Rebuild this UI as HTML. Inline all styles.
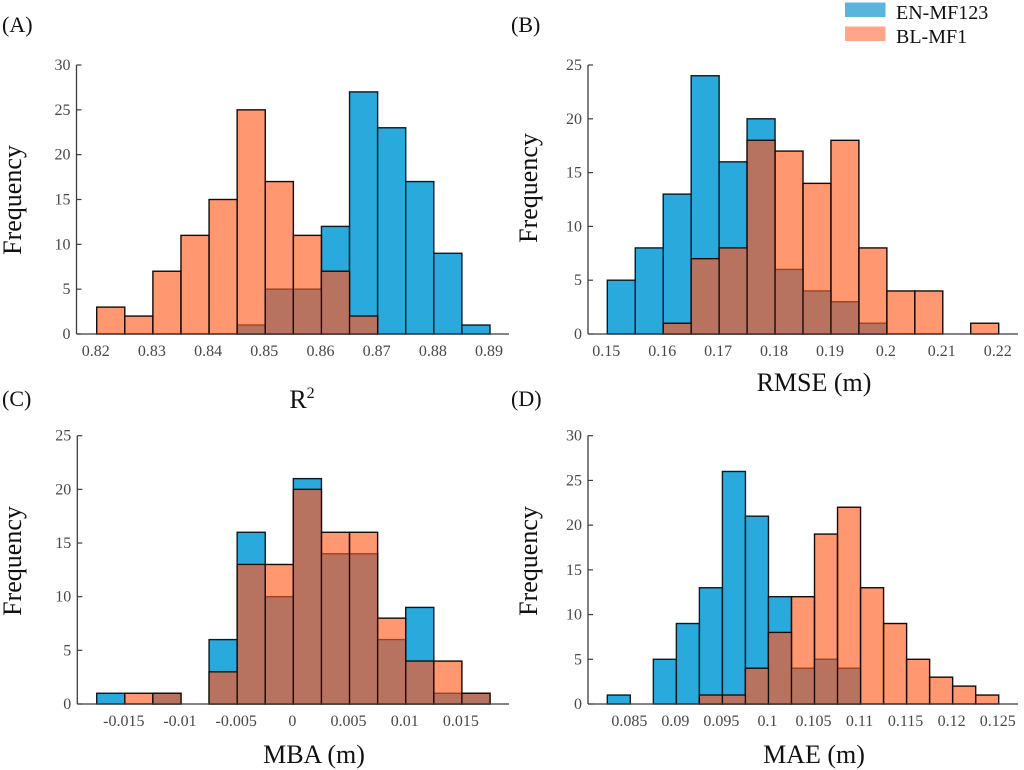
<!DOCTYPE html>
<html lang="en">
<head>
<meta charset="utf-8">
<title>Histograms of R2, RMSE, MBA and MAE</title>
<style>
html,body{margin:0;padding:0;background:#fff;width:1024px;height:770px;overflow:hidden}
svg{display:block;filter:blur(0.35px)}
text{font-family:"Liberation Serif",serif}
.tick{font-size:16px;fill:#484848}
.title{font-size:26px;fill:#111}
.panel{font-size:22px;fill:#111}
.leg{font-size:20px;fill:#111}
</style>
</head>
<body>
<svg id="figure" xmlns="http://www.w3.org/2000/svg" width="1024" height="770" viewBox="0 0 1024 770">
  <rect width="1024" height="770" fill="#fff"/>
  <g>
    <rect x="845" y="2.5" width="40.5" height="14.5" fill="#5ab4e0"/>
    <text class="leg" x="896" y="19">EN-MF123</text>
    <rect x="845" y="26.5" width="40.5" height="14.5" fill="#ffa68a"/>
    <text class="leg" x="896" y="43">BL-MF1</text>
  </g>
  <text class="panel" x="2" y="32">(A)</text>
  <text class="panel" x="511" y="32">(B)</text>
  <text class="panel" x="2" y="406">(C)</text>
  <text class="panel" x="511" y="406">(D)</text>
  <text class="title" x="302" y="408" text-anchor="middle">R<tspan font-size="16" dy="-10">2</tspan></text>
  <text class="title" x="814" y="391" text-anchor="middle">RMSE (m)</text>
  <text class="title" x="314" y="763" text-anchor="middle">MBA (m)</text>
  <text class="title" x="814" y="763" text-anchor="middle">MAE (m)</text>
  <g id="charts"></g>
</svg>
<script>
// Panel A: R2
const aBins = [0.82,0.825,0.83,0.835,0.84,0.845,0.85,0.855,0.86,0.865,0.87,0.875,0.88,0.885];
const aBlue = [0,0,0,0,0,1,5,5,12,27,23,17,9,1];
const aOrange = [3,2,7,11,15,25,17,11,7,2,0,0,0,0];
const aXTicks = [0.82,0.83,0.84,0.85,0.86,0.87,0.88,0.89];
const aXLabels = ["0.82","0.83","0.84","0.85","0.86","0.87","0.88","0.89"];
const aYTicks = [0,5,10,15,20,25,30];

// Panel B: RMSE
const bBins = [0.15,0.155,0.16,0.165,0.17,0.175,0.18,0.185,0.19,0.195,0.2,0.205,0.21,0.215];
const bBlue = [5,8,13,24,16,20,6,4,3,1,0,0,0,0];
const bOrange = [0,0,1,7,8,18,17,14,18,8,4,4,0,1];
const bXTicks = [0.15,0.16,0.17,0.18,0.19,0.2,0.21,0.22];
const bXLabels = ["0.15","0.16","0.17","0.18","0.19","0.2","0.21","0.22"];
const bYTicks = [0,5,10,15,20,25];

// Panel C: MBA
const cBins = [-0.0175,-0.015,-0.0125,-0.01,-0.0075,-0.005,-0.0025,0,0.0025,0.005,0.0075,0.01,0.0125,0.015];
const cBlue = [1,0,1,0,6,16,10,21,14,14,6,9,1,1];
const cOrange = [0,1,1,0,3,13,13,20,16,16,8,4,4,1];
const cXTicks = [-0.015,-0.01,-0.005,0,0.005,0.01,0.015];
const cXLabels = ["-0.015","-0.01","-0.005","0","0.005","0.01","0.015"];
const cYTicks = [0,5,10,15,20,25];

// Panel D: MAE
const dBins = [0.0825,0.085,0.0875,0.09,0.0925,0.095,0.0975,0.1,0.1025,0.105,0.1075,0.11,0.1125,0.115,0.1175,0.12,0.1225];
const dBlue = [1,0,5,9,13,26,21,12,4,5,4,0,0,0,0,0,0];
const dOrange = [0,0,0,0,1,1,4,8,12,19,22,13,9,5,3,2,1];
const dXTicks = [0.085,0.09,0.095,0.1,0.105,0.11,0.115,0.12,0.125];
const dXLabels = ["0.085","0.09","0.095","0.1","0.105","0.11","0.115","0.12","0.125"];
const dYTicks = [0,5,10,15,20,25,30];

const SVG_NS = "http://www.w3.org/2000/svg";
const root = document.getElementById("charts");

function make(tag, parent) {
  const el = document.createElementNS(SVG_NS, tag);
  parent.appendChild(el);
  return el;
}

function drawPanel(p) {
  const binWidth = p.bins[1] - p.bins[0];
  const xLo = p.bins[0];
  const xHi = p.bins[p.bins.length - 1] + binWidth;
  const yHi = p.yTicks[p.yTicks.length - 1];
  const xScale = v => p.left + (v - xLo) / (xHi - xLo) * (p.right - p.left);
  const yScale = v => p.bottom - v / yHi * (p.bottom - p.top);

  const g = make("g", root);
  
  

  p.bins.forEach((b, i) => {
    if (p.blue[i] <= 0) return;
    const r = make("rect", g);
    
    
    r.setAttribute("x", xScale(b));
    r.setAttribute("y", yScale(p.blue[i]));
    r.setAttribute("width", xScale(b + binWidth) - xScale(b));
    r.setAttribute("height", yScale(0) - yScale(p.blue[i]));
    r.setAttribute("fill", "#2aa9dc");
    r.setAttribute("stroke", "#0c1a24");
    r.setAttribute("stroke-width", "1.4");
  });

  p.bins.forEach((b, i) => {
    if (p.orange[i] <= 0) return;
    const r = make("rect", g);
    
    
    r.setAttribute("x", xScale(b));
    r.setAttribute("y", yScale(p.orange[i]));
    r.setAttribute("width", xScale(b + binWidth) - xScale(b));
    r.setAttribute("height", yScale(0) - yScale(p.orange[i]));
    r.setAttribute("fill", "rgb(255,89,24)");
    r.setAttribute("fill-opacity", "0.62");
    r.setAttribute("stroke", "#140b08");
    r.setAttribute("stroke-width", "1.4");
  });

  p.bins.forEach((b, i) => {
    const shared = Math.min(p.blue[i], p.orange[i]);
    if (shared <= 0) return;
    const r = make("rect", g);
    
    
    r.setAttribute("x", xScale(b) + 0.8);
    r.setAttribute("y", yScale(shared) + 0.8);
    r.setAttribute("width", xScale(b + binWidth) - xScale(b) - 1.6);
    r.setAttribute("height", yScale(0) - yScale(shared) - 1.6);
    r.setAttribute("fill", "#b87360");
  });

  const yAxis = make("line", g);
  
  
  yAxis.setAttribute("x1", p.axisX);
  yAxis.setAttribute("x2", p.axisX);
  yAxis.setAttribute("y1", p.top);
  yAxis.setAttribute("y2", p.bottom);
  yAxis.setAttribute("stroke", "#3c3c3c");
  yAxis.setAttribute("stroke-width", "1.3");

  const xAxis = make("line", g);
  
  
  xAxis.setAttribute("x1", p.axisX);
  xAxis.setAttribute("x2", p.axisEnd);
  xAxis.setAttribute("y1", p.bottom);
  xAxis.setAttribute("y2", p.bottom);
  xAxis.setAttribute("stroke", "#3c3c3c");
  xAxis.setAttribute("stroke-width", "1.3");

  p.yTicks.forEach(v => {
    const t = make("line", g);
    
    
    t.setAttribute("x1", p.axisX);
    t.setAttribute("x2", p.axisX + 5);
    t.setAttribute("y1", yScale(v));
    t.setAttribute("y2", yScale(v));
    t.setAttribute("stroke", "#3c3c3c");
    t.setAttribute("stroke-width", "1.2");
    const l = make("text", g);
    
    
    l.setAttribute("class", "tick");
    l.setAttribute("x", p.axisX - 6);
    l.setAttribute("y", yScale(v) + 5);
    l.setAttribute("text-anchor", "end");
    l.textContent = String(v);
  });

  p.xTicks.forEach((v, i) => {
    const l = make("text", g);
    
    
    l.setAttribute("class", "tick");
    l.setAttribute("x", xScale(v) - 1);
    l.setAttribute("y", p.labelY);
    l.setAttribute("text-anchor", "middle");
    l.textContent = p.xLabels[i];
  });

  const yt = make("text", g);
  
  
  yt.setAttribute("class", "title");
  yt.setAttribute("text-anchor", "middle");
  yt.setAttribute("transform", "translate(" + p.yTitleX + "," + p.yTitleY + ") rotate(-90)");
  yt.textContent = "Frequency";
}

drawPanel({name:"panel-a-r2",bins:aBins,blue:aBlue,orange:aOrange,xTicks:aXTicks,xLabels:aXLabels,yTicks:aYTicks,
  left:96.7,right:490,top:65,bottom:334,axisX:76.5,axisEnd:509,labelY:356,yTitleX:21,yTitleY:200});
drawPanel({name:"panel-b-rmse",bins:bBins,blue:bBlue,orange:bOrange,xTicks:bXTicks,xLabels:bXLabels,yTicks:bYTicks,
  left:607.3,right:998.7,top:65,bottom:334,axisX:588,axisEnd:1018,labelY:356,yTitleX:537,yTitleY:188});
drawPanel({name:"panel-c-mba",bins:cBins,blue:cBlue,orange:cOrange,xTicks:cXTicks,xLabels:cXLabels,yTicks:cYTicks,
  left:96.7,right:490,top:435.7,bottom:704,axisX:77.3,axisEnd:509,labelY:726,yTitleX:21,yTitleY:561});
drawPanel({name:"panel-d-mae",bins:dBins,blue:dBlue,orange:dOrange,xTicks:dXTicks,xLabels:dXLabels,yTicks:dYTicks,
  left:607.3,right:998.7,top:435.7,bottom:704,axisX:588,axisEnd:1018,labelY:726,yTitleX:537,yTitleY:561});
</script>
</body>
</html>
